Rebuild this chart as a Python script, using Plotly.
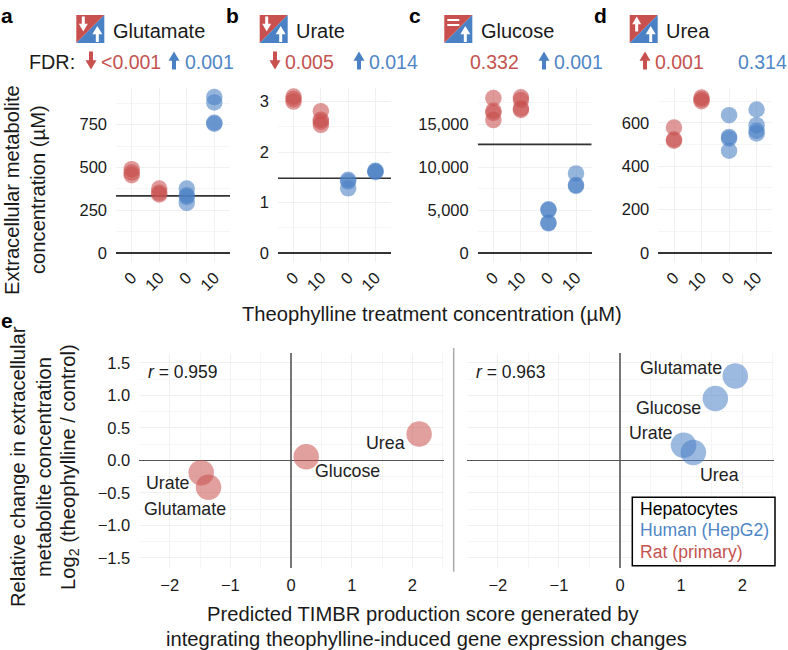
import plotly.graph_objects as go

W, H = 788, 650
FONT = "Liberation Sans"
RED = "#C8504E"
BLUE = "#4A80C4"
RED_TXT = "#C4534F"
BLUE_TXT = "#4F86C6"
GRID = "#F0F0F0"

# top panels: x position is group index, red groups first
groups = ["0", "10", "0", "10"]
glutamate = [[490, 470, 455], [377, 352, 342], [377, 338, 328, 293], [911, 880, 761, 755]]
urate = [[3.1, 3.05, 3.0], [2.81, 2.64, 2.6, 2.54], [1.45, 1.42, 1.28], [1.63, 1.62, 1.6]]
glucose = [[18020, 16550, 16300, 15460], [18100, 17790, 16820, 16630],
           [5080, 5000, 3530, 3450], [9260, 7900, 7790]]
urea = [[578, 523, 517], [716, 708, 699], [635, 535, 528, 471], [661, 589, 563, 551]]
mean_lines = [334, 1.48, 12630, None]

# bottom panels
names = ["Glutamate", "Urate", "Glucose", "Urea"]
rat_x = [-1.36, -1.48, 0.25, 2.11]
rat_y = [-0.415, -0.19, 0.055, 0.405]
human_x = [1.886, 1.04, 1.56, 1.2]
human_y = [1.297, 0.23, 0.95, 0.12]
# label offsets in px from the point, same order as names
rat_shift = [(-23, -22), (-33, -10), (41, -14), (-34, -9)]
human_shift = [(-54, 8), (-33, 12), (-47, -9), (26, -23)]


def px(x):
    return x / W


def py(y):
    return 1 - y / H


def text(fig, x, y, s, size=17.5, color="#1a1a1a", anchor="center", angle=0, bold=False):
    fig.add_annotation(
        x=px(x), y=py(y), xref="paper", yref="paper", text=f"<b>{s}</b>" if bold else s,
        showarrow=False, xanchor=anchor, yanchor="middle", textangle=angle,
        font=dict(family=FONT, size=size, color=color), borderpad=0, align="center",
    )


def poly(fig, pts, color, line=None, width=0):
    path = "M " + " L ".join(f"{px(x):.5f},{py(y):.5f}" for x, y in pts) + " Z"
    fig.add_shape(type="path", path=path, xref="paper", yref="paper", fillcolor=color,
                  line=dict(color=line or color, width=width), layer="above")


def arrow(fig, cx, cy, up, color, w=11, h=18, stem=4):
    # up arrow polygon, flipped for down
    s = -1 if up else 1
    top = cy + s * h / 2
    bot = cy - s * h / 2
    mid = top - s * h * 0.52
    poly(fig, [(cx, top), (cx + w / 2, mid), (cx + stem / 2, mid), (cx + stem / 2, bot),
               (cx - stem / 2, bot), (cx - stem / 2, mid), (cx - w / 2, mid)], color)


def icon(fig, x, rat, human):
    y0, y1 = 15, 43
    s = y1 - y0
    poly(fig, [(x, y0), (x + s, y0), (x, y1)], RED)
    poly(fig, [(x + s, y0), (x + s, y1), (x, y1)], BLUE)
    if rat == "eq":
        poly(fig, [(x + 3, y0 + 4), (x + 15, y0 + 4), (x + 15, y0 + 6), (x + 3, y0 + 6)], "white")
        poly(fig, [(x + 3, y0 + 9), (x + 15, y0 + 9), (x + 15, y0 + 11), (x + 3, y0 + 11)], "white")
    else:
        arrow(fig, x + 7, y0 + 9, rat == "up", "white", w=9, h=15, stem=3)
    arrow(fig, x + s - 7, y1 - 9, human == "up", "white", w=10, h=16, stem=3)


def ax_id(n):
    return "" if n == 1 else str(n)


fig = go.Figure()

top_panels = [
    (116, 230, [-52, 964], [0, 250, 500, 750], [125, 375, 625, 875], ["0", "250", "500", "750"], glutamate),
    (278, 391, [-0.18, 3.27], [0, 1, 2, 3], [0.5, 1.5, 2.5], ["0", "1", "2", "3"], urate),
    (477.7, 591.7, [-1047, 19190], [0, 5000, 10000, 15000], [2500, 7500, 12500, 17500],
     ["0", "5,000", "10,000", "15,000"], glucose),
    (658.3, 772.3, [-41, 760], [0, 200, 400, 600], [100, 300, 500, 700], ["0", "200", "400", "600"], urea),
]

layout_axes = {}
for i, (x0, x1, yr, yt, ym, ytxt, vals) in enumerate(top_panels):
    n = ax_id(i + 1)
    if mean_lines[i] is not None:
        fig.add_trace(go.Scatter(
            x=[-0.57, 3.57], y=[mean_lines[i]] * 2, mode="lines", xaxis=f"x{n}", yaxis=f"y{n}",
            showlegend=False, line=dict(color="#333333", width=1.6),
        ))
    for g, col in enumerate(vals):
        fig.add_trace(go.Scatter(
            x=[g] * len(col), y=col, mode="markers", xaxis=f"x{n}", yaxis=f"y{n}", showlegend=False,
            marker=dict(size=16.5, color=RED if g < 2 else BLUE, opacity=0.58, line=dict(width=0)),
        ))
    layout_axes[f"xaxis{n}"] = dict(
        domain=[px(x0), px(x1)], anchor=f"y{n}", range=[-0.57, 3.57], tickvals=[0, 1, 2, 3],
        ticktext=groups, tickangle=-45, showgrid=True, gridcolor=GRID, gridwidth=1, zeroline=False,
        ticks="", tickfont=dict(family=FONT, size=16.5, color="#1a1a1a"), ticklabelstandoff=2,
    )
    layout_axes[f"yaxis{n}"] = dict(
        domain=[py(262), py(88)], anchor=f"x{n}", range=yr, tickvals=yt, ticktext=ytxt,
        showgrid=True, gridcolor=GRID, gridwidth=1, zeroline=True, zerolinecolor="#333333",
        zerolinewidth=1.6, ticks="",
        minor=dict(tickvals=ym, showgrid=True, gridcolor="#F5F5F5", gridwidth=1),
        tickfont=dict(family=FONT, size=16.5, color="#1a1a1a"), ticklabelstandoff=8,
    )

bottom_panels = [
    (139.3, 444, rat_x, rat_y, rat_shift, RED, 0.959),
    (467.3, 774, human_x, human_y, human_shift, BLUE, 0.963),
]
for i, (x0, x1, xs, ys, shifts, color, r) in enumerate(bottom_panels):
    n = i + 5
    fig.add_trace(go.Scatter(
        x=xs, y=ys, mode="markers", xaxis=f"x{n}", yaxis=f"y{n}", showlegend=False,
        marker=dict(size=25.5, color=color, opacity=0.55, line=dict(width=0)),
    ))
    layout_axes[f"xaxis{n}"] = dict(
        domain=[px(x0), px(x1)], anchor=f"y{n}", range=[-2.5, 2.52], tickvals=[-2, -1, 0, 1, 2],
        showgrid=True, gridcolor=GRID, zeroline=True, zerolinecolor="#777777", zerolinewidth=1.5, ticks="",
        minor=dict(tickvals=[-2.5, -1.5, -0.5, 0.5, 1.5, 2.5], showgrid=True, gridcolor="#F5F5F5"),
        tickfont=dict(family=FONT, size=16.5, color="#1a1a1a"), ticklabelstandoff=5,
    )
    layout_axes[f"yaxis{n}"] = dict(
        domain=[py(568), py(352.7)], anchor=f"x{n}", range=[-1.657, 1.655],
        tickvals=[-1.5, -1, -0.5, 0, 0.5, 1, 1.5], tickformat=".1f",
        showgrid=True, gridcolor=GRID, zeroline=True, zerolinecolor="#555555", zerolinewidth=1.2,
        ticks="", showticklabels=i == 0,
        minor=dict(tickvals=[-1.25, -0.75, -0.25, 0.25, 0.75, 1.25], showgrid=True, gridcolor="#F5F5F5"),
        tickfont=dict(family=FONT, size=16.5, color="#1a1a1a"), ticklabelstandoff=8,
    )
    for name, x, y, (dx, dy) in zip(names, xs, ys, shifts):
        fig.add_annotation(x=x, y=y, xref=f"x{n}", yref=f"y{n}", text=name, showarrow=False,
                           xshift=dx, yshift=dy, font=dict(family=FONT, size=17.8, color="#222222"))
    text(fig, x0 + 8, 372, f"<i>r</i> = {r}", size=17.5, anchor="left")

# separator between the bottom panels
fig.add_shape(type="line", xref="paper", yref="paper", x0=px(453.7), x1=px(453.7), y0=py(348), y1=py(571.7),
              line=dict(color="#AAAAAA", width=1.5))

# panel letters
for s, x, y in [("a", 7, 15), ("b", 232, 15), ("c", 415, 15), ("d", 600, 15), ("e", 7, 320)]:
    text(fig, x, y, s, size=21, color="black", bold=True)

# metabolite headers
for x, rat, human, name, tx in [(76.3, "down", "up", "Glutamate", 112), (259.7, "down", "up", "Urate", 295),
                                (444.3, "eq", "up", "Glucose", 480), (629.7, "up", "up", "Urea", 665)]:
    icon(fig, x, rat, human)
    text(fig, tx, 31, name, size=20, anchor="left")

# FDR row
text(fig, 28, 62, "FDR:", size=19.8, anchor="left")
for x, s, color in [(100, "&lt;0.001", RED_TXT), (184, "0.001", BLUE_TXT), (284, "0.005", RED_TXT),
                    (368, "0.014", BLUE_TXT), (469, "0.332", RED_TXT), (553, "0.001", BLUE_TXT),
                    (654, "0.001", RED_TXT), (737, "0.314", BLUE_TXT)]:
    text(fig, x, 62, s, size=19.5, color=color, anchor="left")
for x, up, color in [(91, False, RED), (174, True, BLUE), (275, False, RED), (359, True, BLUE),
                     (544, True, BLUE), (645, True, RED)]:
    arrow(fig, x, 60.5, up, color)

# axis titles
text(fig, 12, 190, "Extracellular metabolite", size=20.2, angle=-90)
text(fig, 38, 190, "concentration (µM)", size=20.2, angle=-90)
text(fig, 432, 314, "Theophylline treatment concentration (µM)", size=20.2)
text(fig, 18, 467, "Relative change in extracellular", size=20.2, angle=-90)
text(fig, 44, 467, "metabolite concentration", size=20.2, angle=-90)
text(fig, 69, 467, "Log<sub>2</sub> (theophylline / control)", size=20.2, angle=-90)
text(fig, 423, 614, "Predicted TIMBR production score generated by", size=20.2)
text(fig, 426, 639, "integrating theophylline-induced gene expression changes", size=20.2)

# legend box
fig.add_shape(type="rect", xref="paper", yref="paper", x0=px(632.3), x1=px(775), y0=py(565.7), y1=py(497.3),
              line=dict(color="black", width=1.5), fillcolor="white", layer="above")
text(fig, 639, 509, "Hepatocytes", size=17.6, color="black", anchor="left")
text(fig, 639, 530, "Human (HepG2)", size=17.6, color=BLUE_TXT, anchor="left")
text(fig, 639, 551.7, "Rat (primary)", size=17.6, color=RED_TXT, anchor="left")

fig.update_layout(width=W, height=H, margin=dict(l=0, r=0, t=0, b=0), paper_bgcolor="white",
                  plot_bgcolor="white", showlegend=False, **layout_axes)

fig.write_html("out.html", config={"displayModeBar": False},
               post_script="document.body.style.margin='0';")
